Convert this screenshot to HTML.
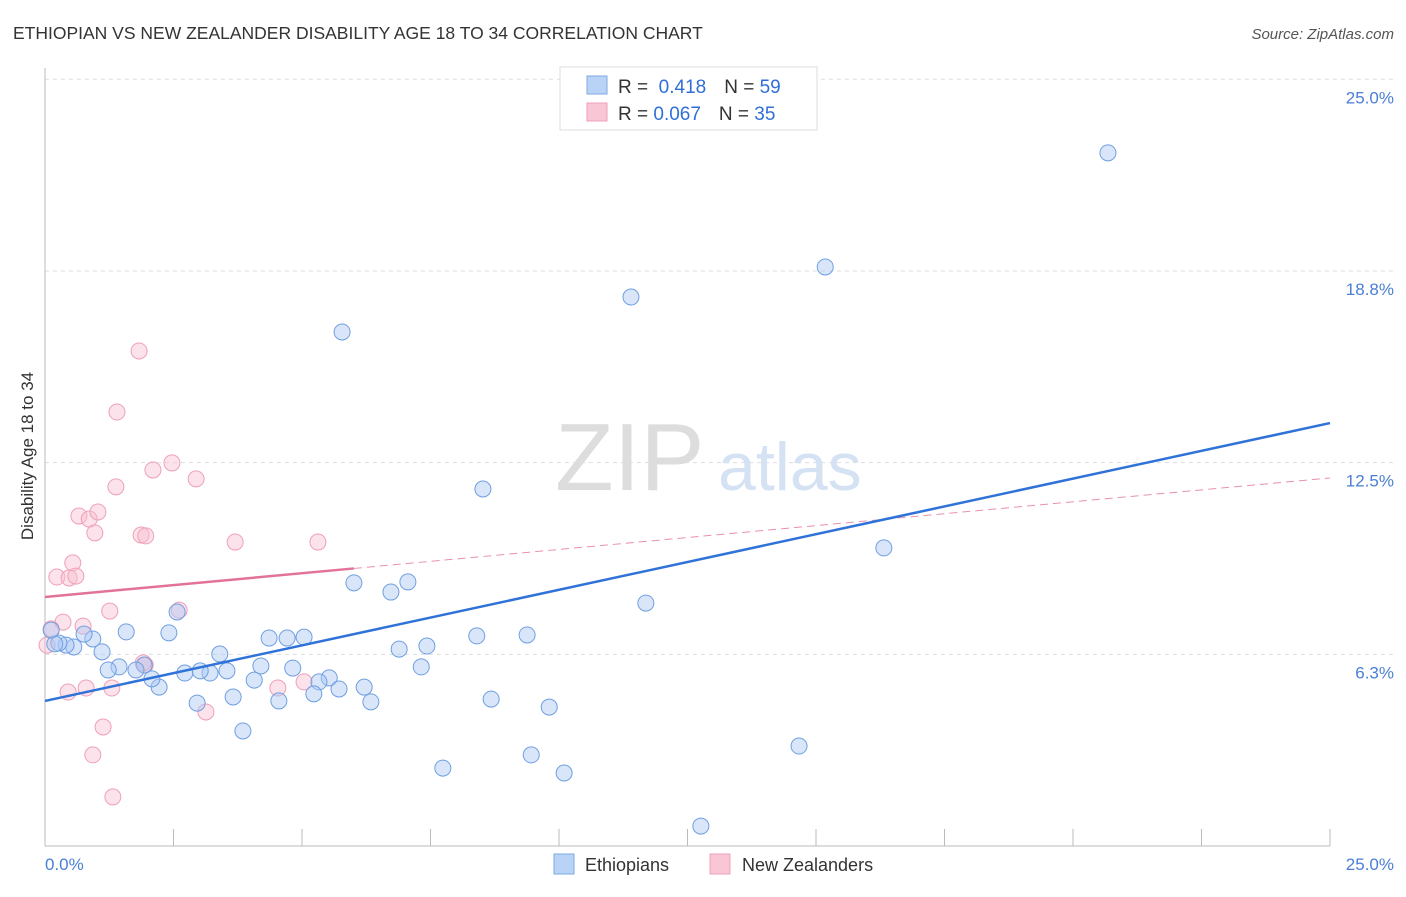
<!DOCTYPE html>
<html><head><meta charset="utf-8"><style>
body{margin:0;background:#fff;font-family:"Liberation Sans",sans-serif}
svg text{font-family:"Liberation Sans",sans-serif}
</style></head><body>
<svg id="chart" width="1406" height="892" viewBox="0 0 1406 892" xmlns="http://www.w3.org/2000/svg">
<text x="13" y="39" font-size="17.5" fill="#333">ETHIOPIAN VS NEW ZEALANDER DISABILITY AGE 18 TO 34 CORRELATION CHART</text>
<text x="1394" y="39" font-size="15" fill="#555" text-anchor="end" font-style="italic">Source: ZipAtlas.com</text>
<g id="grid"></g>
<text x="555" y="490" font-size="96" fill="#ddd" font-family="Liberation Serif">ZIP</text>
<text x="718" y="490" font-size="68" fill="#d4e2f4">atlas</text>
<line x1="45" y1="68" x2="45" y2="846" stroke="#bbb"/>
<line x1="45" y1="846" x2="1330" y2="846" stroke="#bbb"/>
<g id="ticks"></g>
<g id="ylabels"></g>
<text x="45" y="870" font-size="17" fill="#4a7fd4">0.0%</text>
<text x="1394" y="870" font-size="17" fill="#4a7fd4" text-anchor="end">25.0%</text>
<text transform="translate(33,456) rotate(-90)" font-size="17" fill="#333" text-anchor="middle">Disability Age 18 to 34</text>
<g id="marks"></g>
<g>
<rect x="560" y="67" width="257" height="63" fill="#fff" stroke="#ddd"/>
<rect x="587" y="76" width="20" height="18" fill="#b8d3f5" stroke="#7ea9e3"/>
<rect x="587" y="103" width="20" height="18" fill="#f9c6d5" stroke="#eea0b8"/>
<text x="618" y="93" font-size="19" fill="#333">R = <tspan fill="#2f6fd6">&#160;0.418</tspan><tspan dx="18">N = </tspan><tspan fill="#2f6fd6">59</tspan></text>
<text x="618" y="120" font-size="19" fill="#333">R = <tspan fill="#2f6fd6">0.067</tspan><tspan dx="18">N = </tspan><tspan fill="#2f6fd6">35</tspan></text>
</g>
<g>
<rect x="554" y="854" width="20" height="20" fill="#b8d3f5" stroke="#7ea9e3"/>
<text x="585" y="871" font-size="18" fill="#333">Ethiopians</text>
<rect x="710" y="854" width="20" height="20" fill="#f9c6d5" stroke="#eea0b8"/>
<text x="742" y="871" font-size="18" fill="#333">New Zealanders</text>
</g>
</svg>
<script>
const yTicks=[6.25,12.5,18.75,25];
const yTickLabels=["6.3%","12.5%","18.8%","25.0%"];
const xTicks=[0,2.5,5,7.5,10,12.5,15,17.5,20,22.5,25];
const blueX=[20.68,15.18,11.40,5.78,8.52,16.32,11.69,6.01,7.06,6.73,9.38,8.40,7.43,6.89,7.32,4.71,5.04,4.36,3.40,4.20,4.82,5.53,5.33,5.72,6.21,6.34,5.23,4.55,4.07,3.66,3.85,2.96,3.54,3.21,3.02,2.72,2.41,2.57,2.22,2.08,1.93,1.77,1.44,1.23,1.58,1.11,0.93,0.76,0.56,0.41,0.27,0.19,0.12,8.68,9.81,9.46,7.74,10.10,14.67,12.76];
const blueY=[22.6,18.88,17.90,16.76,11.64,9.72,7.92,8.58,8.61,8.28,6.88,6.85,6.52,6.42,5.84,6.78,6.81,6.78,6.26,5.87,5.80,5.48,5.35,5.12,5.18,4.70,4.96,4.73,5.41,4.86,3.75,4.66,5.71,5.64,5.71,5.64,6.95,7.63,5.18,5.45,5.90,5.74,5.84,5.74,6.98,6.33,6.75,6.91,6.49,6.55,6.62,6.59,7.04,4.79,4.53,2.97,2.54,2.38,3.26,0.65];
const pinkX=[1.83,1.40,2.10,2.47,2.94,1.38,0.66,0.86,1.03,0.97,1.87,1.96,3.70,5.31,0.54,0.23,0.47,0.60,1.26,2.61,0.35,0.74,0.12,0.04,1.95,1.91,1.30,0.45,0.80,4.53,5.04,3.13,1.13,0.93,1.32];
const pinkY=[16.14,14.15,12.26,12.49,11.97,11.71,10.76,10.66,10.89,10.21,10.14,10.11,9.91,9.91,9.23,8.77,8.74,8.80,7.66,7.69,7.30,7.17,7.08,6.55,5.90,5.97,5.15,5.02,5.15,5.15,5.35,4.37,3.88,2.97,1.60];
const blueTrend=[0,4.73,25,13.79];
const pinkTrend=[0,8.12,6.01,9.05,25,12.0];
const NS="http://www.w3.org/2000/svg";
const X=v=>45+v*51.4, Y=v=>846-v*30.67;
function mk(t,a,p){const e=document.createElementNS(NS,t);for(const k in a)e.setAttribute(k,a[k]);p.appendChild(e);return e;}
const grid=document.getElementById('grid'),ticks=document.getElementById('ticks'),yl=document.getElementById('ylabels'),marks=document.getElementById('marks');
yTicks.forEach((t,i)=>{
 const l=mk('line',{x1:45,x2:1394,y1:Y(t),y2:Y(t),stroke:'#ddd','stroke-dasharray':'4,4'},grid);
 
 
 const tx=mk('text',{x:1394,y:Y(t)+24,'font-size':17,fill:'#4a7fd4','text-anchor':'end'},yl);
 tx.textContent=yTickLabels[i];
 
 
});
xTicks.forEach(t=>{
 const l=mk('line',{x1:X(t),x2:X(t),y1:829,y2:846,stroke:'#bbb'},ticks);
 
 
});
function pts(xs,ys,fill,stroke,name){
 xs.forEach((x,i)=>{
  const c=mk('circle',{cx:X(x),cy:Y(ys[i]),r:8,fill:fill,stroke:stroke,'stroke-width':1},marks);
  
  
 });
}
pts(pinkX,pinkY,'rgba(249,190,208,0.45)','#eea0b8','new-zealander-point');
pts(blueX,blueY,'rgba(170,200,245,0.45)','#6f9fe0','ethiopian-point');
let l=mk('line',{x1:X(pinkTrend[2]),y1:Y(pinkTrend[3]),x2:X(pinkTrend[4]),y2:Y(pinkTrend[5]),stroke:'#e890ae','stroke-width':1,'stroke-dasharray':'8,5'},marks);


l=mk('line',{x1:X(pinkTrend[0]),y1:Y(pinkTrend[1]),x2:X(pinkTrend[2]),y2:Y(pinkTrend[3]),stroke:'#e3729a','stroke-width':2.5},marks);


l=mk('line',{x1:X(blueTrend[0]),y1:Y(blueTrend[1]),x2:X(blueTrend[2]),y2:Y(blueTrend[3]),stroke:'#2f72d8','stroke-width':2.5},marks);


</script>
</body></html>
